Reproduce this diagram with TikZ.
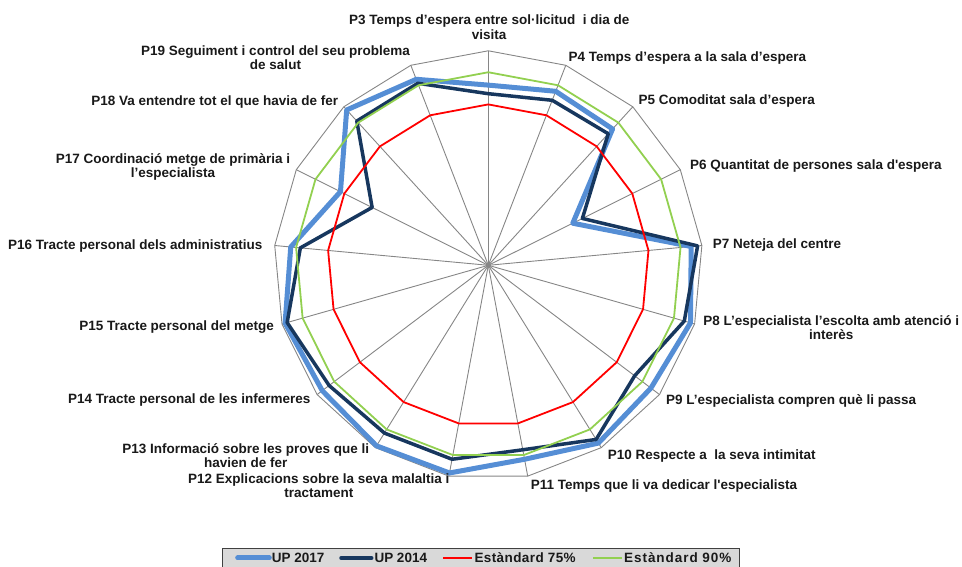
\documentclass[tikz,border=0pt]{standalone}
\usepackage{fontspec}
\setmainfont{Liberation Sans}
\usetikzlibrary{calc}
\definecolor{up17}{RGB}{85,142,213}
\definecolor{up14}{RGB}{23,55,94}
\definecolor{std75}{RGB}{255,0,0}
\definecolor{std90}{RGB}{146,208,80}
\definecolor{gridgray}{RGB}{134,134,134}
\definecolor{legfill}{RGB}{217,217,217}
\definecolor{legedge}{RGB}{64,64,64}
\tikzset{
  gridline/.style={draw=gridgray, line width=0.9pt},
  ser17/.style={draw=up17, line width=5pt, line join=round},
  ser14/.style={draw=up14, line width=3.5pt, line join=round},
  ser75/.style={draw=std75, line width=1.8pt, line join=round},
  ser90/.style={draw=std90, line width=1.8pt, line join=round},
  lbl/.style={font=\bfseries\fontsize{13.5}{14.5}\selectfont, inner sep=0pt, align=center, text=black!90},
  legtxt/.style={font=\bfseries\fontsize{13.5}{14.5}\selectfont, inner sep=0pt, anchor=west, text=black!90},
  legbox/.style={draw=legedge, fill=legfill, line width=1pt}
}
\begin{document}
\begin{tikzpicture}[x=1pt,y=1pt]
\useasboundingbox (0,0) rectangle (962,567);
\def\sc{2.145}
\coordinate (C) at (488.3,301.7);
% axes
\foreach \i in {0,...,16}{
  \coordinate (A\i) at ($(C)+({90-\i*360/17}:{100*\sc})$);
  \coordinate (R\i) at ($(C)+({90-\i*360/17}:{75*\sc})$);
  \coordinate (G\i) at ($(C)+({90-\i*360/17}:{90*\sc})$);
}
\foreach \v [count=\i from 0] in {84,87,86,44,95,98,95,97.5,92,98.5,99,97,98.5,92.5,77,98,93}{
  \coordinate (B\i) at ($(C)+({90-\i*360/17}:{\v*\sc})$);
}
\foreach \v [count=\i from 0] in {80,82.5,83,49,98,95,85.5,95.5,87.5,92,92,93,97.5,88,60.5,91,91}{
  \coordinate (N\i) at ($(C)+({90-\i*360/17}:{\v*\sc})$);
}
% grid
\foreach \i in {0,...,16}{ \draw[gridline] (C) -- (A\i); }
\draw[gridline] (A0) \foreach \i in {1,...,16}{ -- (A\i) } -- cycle;
\fill[gridgray] (C) circle (2.6);
% series
\draw[ser17] (B0) \foreach \i in {1,...,16}{ -- (B\i) } -- cycle;
\draw[ser14] (N0) \foreach \i in {1,...,16}{ -- (N\i) } -- cycle;
\draw[ser75] (R0) \foreach \i in {1,...,16}{ -- (R\i) } -- cycle;
\draw[ser90] (G0) \foreach \i in {1,...,16}{ -- (G\i) } -- cycle;
% labels
\node[lbl] (p3) at (489.2,540) {P3 Temps d’espera entre sol·licitud\ \ i dia de\\visita};
\node[lbl, anchor=west] (p4) at (568.3,508.7) {P4 Temps d’espera a la sala d’espera};
\node[lbl, anchor=west] (p5) at (638.3,466) {P5 Comoditat sala d’espera};
\node[lbl, anchor=west] (p6) at (690,401.3) {P6 Quantitat de persones sala d\textquotesingle espera};
\node[lbl, anchor=west] (p7) at (712.7,322) {P7 Neteja del centre};
\node[lbl] (p8) at (831.3,239.2) {P8 L’especialista l’escolta amb atenció i\\interès};
\node[lbl, anchor=west] (p9) at (666,166) {P9 L’especialista compren què li passa};
\node[lbl, anchor=west] (p10) at (607.7,111.3) {P10 Respecte a\ \ la seva intimitat};
\node[lbl, anchor=west] (p11) at (530.7,81) {P11 Temps que li va dedicar l\textquotesingle especialista};
\node[lbl] (p12) at (318.8,81.3) {P12 Explicacions sobre la seva malaltia i\\tractament};
\node[lbl] (p13) at (245.8,111.5) {P13 Informació sobre les proves que li\\havien de fer};
\node[lbl, anchor=east] (p14) at (310.7,167) {P14 Tracte personal de les infermeres};
\node[lbl, anchor=east] (p15) at (274,239.7) {P15 Tracte personal del metge};
\node[lbl, anchor=east] (p16) at (262.7,321) {P16 Tracte personal dels administratius};
\node[lbl] (p17) at (173,400) {P17 Coordinació metge de primària i\\l’especialista};
\node[lbl, anchor=east] (p18) at (338.3,465.3) {P18 Va entendre tot el que havia de fer};
\node[lbl] (p19) at (275.5,509.2) {P19 Seguiment i control del seu problema\\de salut};
% legend
\draw[legbox] (222.3,18) rectangle (739.3,-4);
\coordinate (l1a) at (237.7,9); \coordinate (l1b) at (269.3,9);
\coordinate (l2a) at (341,9);   \coordinate (l2b) at (371.7,9);
\coordinate (l3a) at (443.3,9); \coordinate (l3b) at (471.7,9);
\coordinate (l4a) at (593.3,9); \coordinate (l4b) at (621.7,9);
\draw[ser17, line cap=round] (l1a) -- (l1b);
\draw[ser14, line cap=round] (l2a) -- (l2b);
\draw[ser75] (l3a) -- (l3b);
\draw[ser90] (l4a) -- (l4b);
\node[legtxt] (t1) at (271.7,9) {UP 2017};
\node[legtxt] (t2) at (374.3,9) {UP 2014};
\node[legtxt] (t3) at (474.3,9) {\addfontfeature{LetterSpace=3}Estàndard 75\%};
\node[legtxt] (t4) at (624,9) {\addfontfeature{LetterSpace=7}Estàndard 90\%};
\end{tikzpicture}
\end{document}
